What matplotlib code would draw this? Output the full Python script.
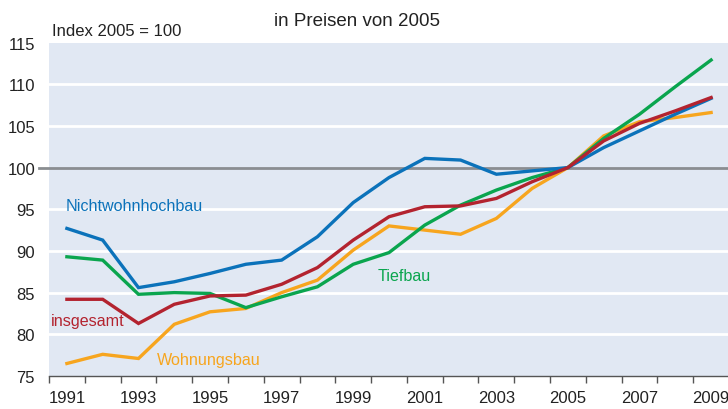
import matplotlib
matplotlib.use("Agg")
import matplotlib.pyplot as plt
import numpy as np

years = list(range(1991, 2010))
nichtwohnhochbau = [92.7, 91.3, 85.6, 86.3, 87.3, 88.4, 88.9, 91.7, 95.8, 98.8,
                    101.1, 100.9, 99.2, 99.6, 100.0, 102.4, 104.4, 106.4, 108.3]
tiefbau = [89.3, 88.9, 84.8, 85.0, 84.9, 83.2, 84.5, 85.7, 88.4, 89.8,
           93.1, 95.5, 97.3, 98.8, 100.0, 103.5, 106.4, 109.7, 112.9]
insgesamt = [84.2, 84.2, 81.3, 83.6, 84.6, 84.7, 86.0, 88.0, 91.3, 94.1,
             95.3, 95.4, 96.3, 98.3, 100.0, 103.2, 105.3, 106.8, 108.4]
wohnungsbau = [76.5, 77.6, 77.1, 81.2, 82.7, 83.1, 85.0, 86.5, 90.1, 93.0,
               92.5, 92.0, 93.9, 97.5, 100.0, 103.8, 105.5, 106.0, 106.6]
ytick_vals = [75, 80, 85, 90, 95, 100, 105, 110, 115]
xtick_labels = [str(y) for y in range(1991, 2010, 2)]

c_blue = "#0B72BA"
c_green = "#0AA54E"
c_red = "#B3232F"
c_orange = "#F7A51E"
c_bg = "#E1E8F3"
c_text = "#222222"

plt.rcParams['font.family'] = ['Liberation Sans', 'DejaVu Sans']

fig = plt.figure(figsize=(7.28, 4.10), dpi=100)
ax = fig.add_axes([49/728, 33/410, 680/728, (377-43.5)/410])
ax.set_facecolor(c_bg)

ax.set_xlim(1990.5, 2009.5)
ax.set_ylim(75, 115)

# white gridlines
for v in ytick_vals:
    if v not in (75, 100, 115):
        ax.axhline(v, color="white", lw=2.0, zorder=1)

# 100 reference line extending left
ax.axhline(100, color="#8A8D91", lw=2.0, zorder=2, xmin=-0.014, clip_on=False)

ax.plot(years, wohnungsbau, color=c_orange, lw=2.4, zorder=3, solid_joinstyle="miter")
ax.plot(years, tiefbau, color=c_green, lw=2.4, zorder=4, solid_joinstyle="miter")
ax.plot(years, nichtwohnhochbau, color=c_blue, lw=2.4, zorder=5, solid_joinstyle="miter")
ax.plot(years, insgesamt, color=c_red, lw=2.4, zorder=6, solid_joinstyle="miter")

# spines
for s in ["top", "right", "left"]:
    ax.spines[s].set_visible(False)
ax.spines["bottom"].set_color("#555555")
ax.spines["bottom"].set_linewidth(1.0)

# x ticks: marks at year boundaries, labels at odd years
ax.set_xticks(np.arange(1990.5, 2010.0, 1.0))
ax.set_xticklabels([])
ax.tick_params(axis="x", which="major", length=5, width=1.0, color="#555555", direction="out")
ax.set_xticks(list(range(1991, 2010, 2)), minor=True)
ax.set_xticklabels(xtick_labels, minor=True)
ax.tick_params(axis="x", which="minor", length=0, pad=10, labelsize=12, labelcolor=c_text)

ax.set_yticks(ytick_vals)
ax.set_yticklabels([str(v) for v in ytick_vals])
ax.tick_params(axis="y", length=0, pad=10, labelsize=12, labelcolor=c_text)

# texts
fig.text(52/728, 1 - 32/410, "Index 2005 = 100", fontsize=12, color=c_text, va="center", ha="left")
fig.text(357/728, 1 - 22/410, "in Preisen von 2005", fontsize=13.5, color=c_text, va="center", ha="center")

ax.text(1990.975, 95.5, "Nichtwohnhochbau", color=c_blue, fontsize=11.6, ha="left", va="center")
ax.text(1999.69, 87.1, "Tiefbau", color=c_green, fontsize=11.6, ha="left", va="center")
ax.text(1990.56, 81.7, "insgesamt", color=c_red, fontsize=11.6, ha="left", va="center")
ax.text(1993.52, 77.0, "Wohnungsbau", color=c_orange, fontsize=11.6, ha="left", va="center")

fig.savefig("out.png", dpi=100)
